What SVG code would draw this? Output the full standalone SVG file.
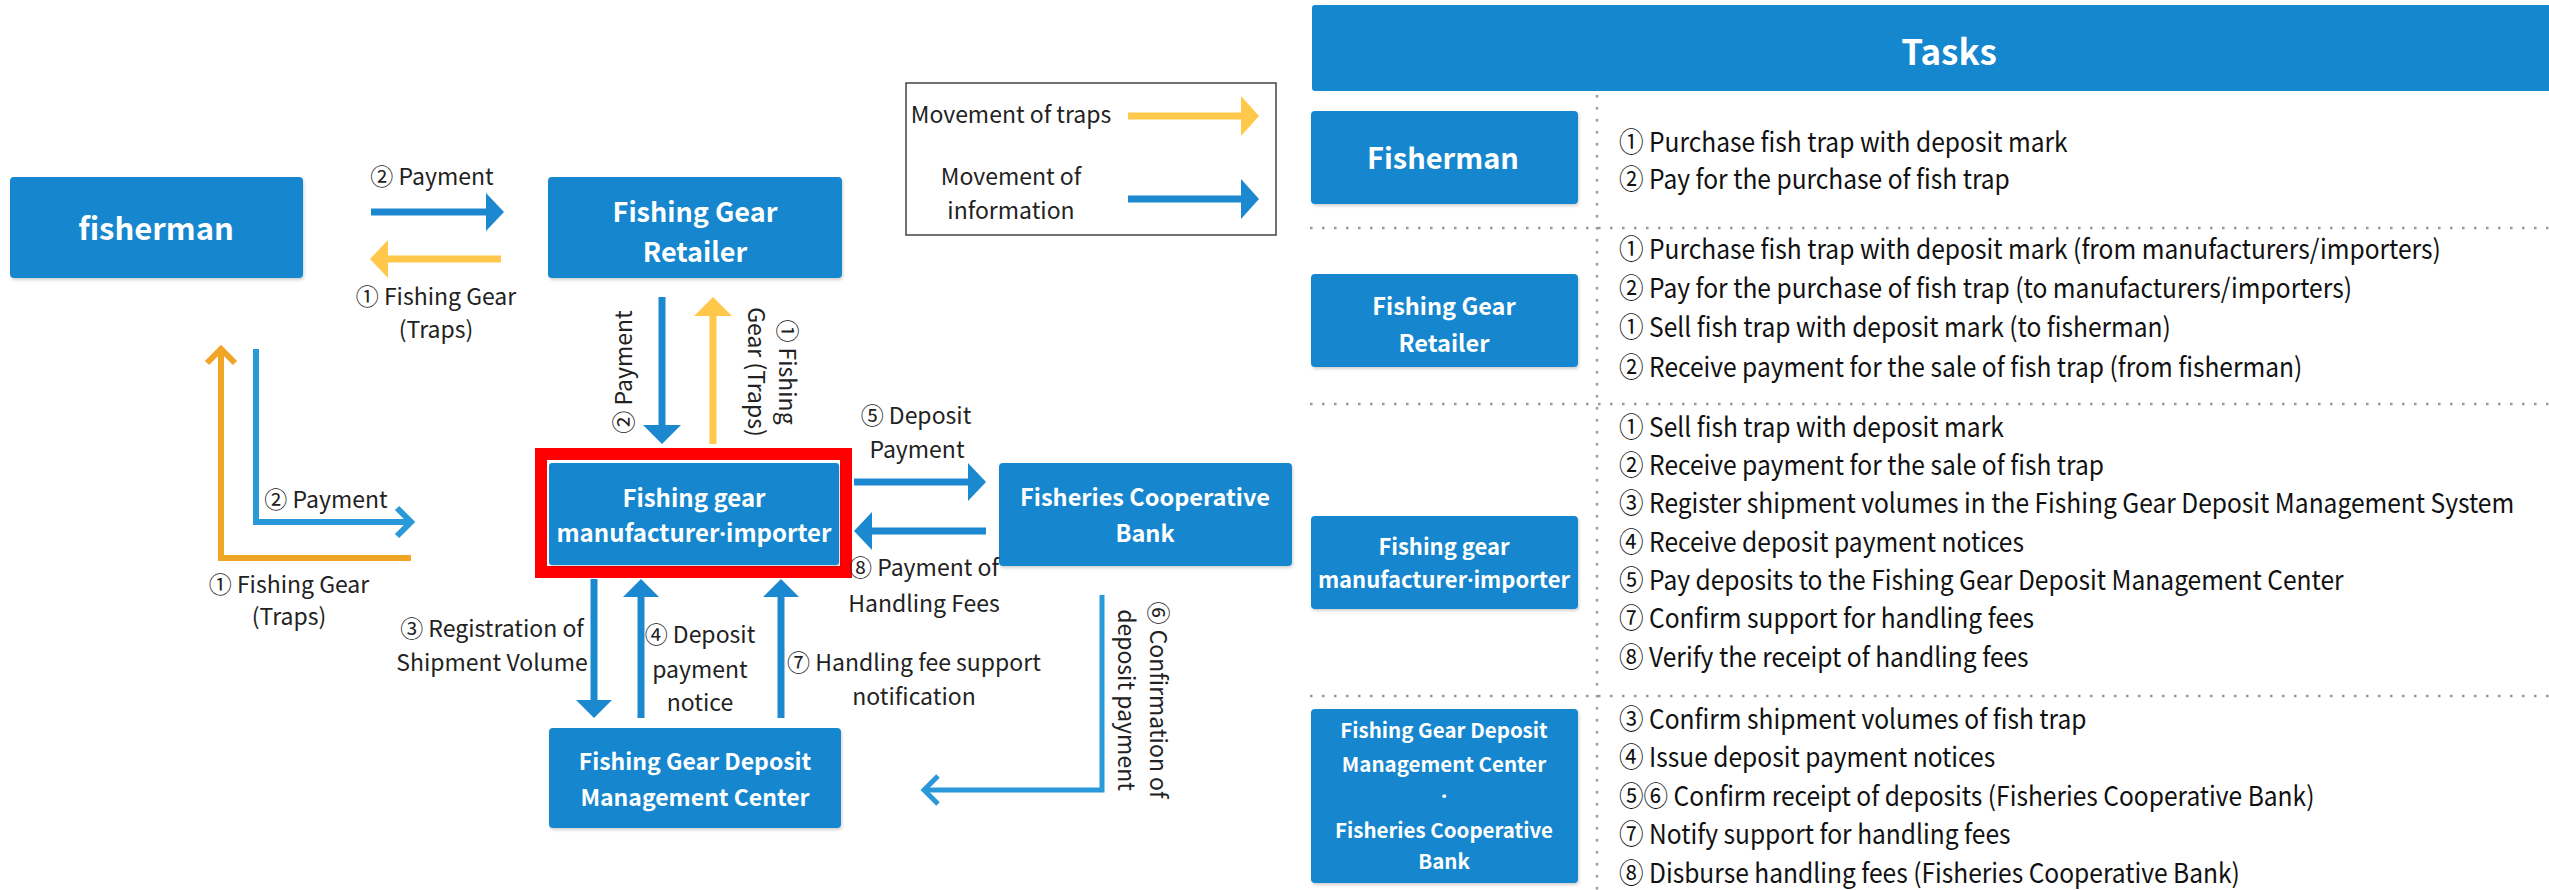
<svg xmlns="http://www.w3.org/2000/svg" width="2549" height="890" viewBox="0 0 2549 890">
<defs>
<style>
text{font-family:"Noto Sans CJK KR","Noto Sans",sans-serif;}
.box{fill:#1487CE;}
.bt{fill:#fff;font-weight:bold;text-anchor:middle;}
.lb{fill:#222;font-size:23px;text-anchor:middle;}
.tk{fill:#111;font-size:27px;}
.dt{font-family:"Noto Sans",sans-serif;}
.bl{stroke:#1B88D0;stroke-width:7;fill:none;}
.ye{stroke:#FFC84A;stroke-width:7;fill:none;}
.bh{fill:#1B88D0;}
.yh{fill:#FFC84A;}
.dot{stroke:#9a9a9a;stroke-width:2.5;stroke-dasharray:2.5 9.5;fill:none;}
</style>
<filter id="sh" x="-5%" y="-5%" width="110%" height="115%">
<feDropShadow dx="1" dy="2" stdDeviation="1.5" flood-color="#000" flood-opacity="0.18"/>
</filter>
</defs>
<rect width="2549" height="890" fill="#fff"/>

<!-- left diagram nodes -->
<g id="fisherman">
<rect class="box" x="10" y="177" width="293" height="101" rx="4" filter="url(#sh)"/>
<text class="bt" x="156" y="240" font-size="31">fisherman</text>
</g>
<g id="retailer">
<rect class="box" x="548" y="177" width="294" height="101" rx="4" filter="url(#sh)"/>
<text class="bt" x="695" y="222" font-size="27">Fishing Gear</text>
<text class="bt" x="695" y="262" font-size="27">Retailer</text>
</g>
<g id="manufacturer">
<rect x="541" y="454" width="305" height="118" fill="none" stroke="#FF0000" stroke-width="12"/>
<rect class="box" x="549" y="463" width="290" height="102" rx="3" filter="url(#sh)"/>
<text class="bt" x="694" y="507" font-size="24">Fishing gear</text>
<text class="bt" x="694" y="542" font-size="24">manufacturer<tspan class="dt">·</tspan>importer</text>
</g>
<g id="bank">
<rect class="box" x="999" y="463" width="293" height="103" rx="4" filter="url(#sh)"/>
<text class="bt" x="1145" y="506" font-size="23.5">Fisheries Cooperative</text>
<text class="bt" x="1145" y="542" font-size="23.5">Bank</text>
</g>
<g id="center">
<rect class="box" x="549" y="728" width="292" height="100" rx="4" filter="url(#sh)"/>
<text class="bt" x="695" y="770" font-size="23">Fishing Gear Deposit</text>
<text class="bt" x="695" y="806" font-size="23">Management Center</text>
</g>

<!-- legend -->
<g id="legend">
<rect x="906" y="83" width="370" height="152" fill="#fff" stroke="#444" stroke-width="1.5"/>
<text class="lb" x="1011" y="123" font-size="22">Movement of traps</text>
<text class="lb" x="1011" y="185" font-size="22">Movement of</text>
<text class="lb" x="1011" y="219" font-size="22">information</text>
<line class="ye" x1="1128" y1="116" x2="1243" y2="116"/>
<polygon class="yh" points="1241,96 1259,116 1241,136"/>
<line class="bl" x1="1128" y1="199" x2="1243" y2="199"/>
<polygon class="bh" points="1241,179 1259,199 1241,219"/>
</g>

<!-- connectors -->
<g id="connectors">
<line class="bl" x1="371" y1="212" x2="488" y2="212"/>
<polygon class="bh" points="486,193 504,212 486,231"/>
<line class="ye" x1="501" y1="259" x2="386" y2="259"/>
<polygon class="yh" points="388,240 370,259 388,278"/>
<line class="bl" x1="662" y1="297" x2="662" y2="428"/>
<polygon class="bh" points="643,425 662,444 681,425"/>
<line class="ye" x1="713" y1="444" x2="713" y2="313"/>
<polygon class="yh" points="694,316 713,297 732,316"/>
<line class="bl" x1="854" y1="482" x2="970" y2="482"/>
<polygon class="bh" points="968,463 986,482 968,501"/>
<line class="bl" x1="986" y1="531" x2="870" y2="531"/>
<polygon class="bh" points="872,512 854,531 872,550"/>
<line class="bl" x1="594" y1="579" x2="594" y2="703"/>
<polygon class="bh" points="576,700 594,718 612,700"/>
<line class="bl" x1="641" y1="718" x2="641" y2="594"/>
<polygon class="bh" points="623,597 641,579 659,597"/>
<line class="bl" x1="781" y1="718" x2="781" y2="594"/>
<polygon class="bh" points="763,597 781,579 799,597"/>
<path d="M1102,595 V790 H925" fill="none" stroke="#2A99DA" stroke-width="5"/>
<polyline points="938,776 924,790 938,804" fill="none" stroke="#2A99DA" stroke-width="5"/>
<path d="M256,349 V522 H409" fill="none" stroke="#2A99DA" stroke-width="6"/>
<polyline points="397,508 411,522 397,536" fill="none" stroke="#2A99DA" stroke-width="6"/>
<path d="M411,558 H221 V352" fill="none" stroke="#F0A526" stroke-width="6"/>
<polyline points="207,363 221,349 235,363" fill="none" stroke="#F0A526" stroke-width="6"/>
</g>

<!-- connector labels -->
<g id="labels">
<text class="lb" x="432" y="185">② Payment</text>
<text class="lb" x="436" y="305">① Fishing Gear</text>
<text class="lb" x="436" y="338">(Traps)</text>
<text class="lb" transform="translate(632,372) rotate(-90)">② Payment</text>
<text class="lb" transform="translate(779,372) rotate(90)">① Fishing</text>
<text class="lb" transform="translate(748,372) rotate(90)">Gear (Traps)</text>
<text class="lb" x="916" y="424">⑤ Deposit</text>
<text class="lb" x="917" y="458">Payment</text>
<text class="lb" x="924" y="576">⑧ Payment of</text>
<text class="lb" x="924" y="612">Handling Fees</text>
<text class="lb" x="492" y="637">③ Registration of</text>
<text class="lb" x="492" y="671">Shipment Volume</text>
<text class="lb" x="700" y="643">④ Deposit</text>
<text class="lb" x="700" y="678">payment</text>
<text class="lb" x="700" y="711">notice</text>
<text class="lb" x="914" y="671">⑦ Handling fee support</text>
<text class="lb" x="914" y="705">notification</text>
<text class="lb" transform="translate(1150,700) rotate(90)">⑥ Confirmation of</text>
<text class="lb" transform="translate(1118,700) rotate(90)">deposit payment</text>
<text class="lb" x="326" y="508">② Payment</text>
<text class="lb" x="289" y="593">① Fishing Gear</text>
<text class="lb" x="289" y="625">(Traps)</text>
</g>

<!-- tasks panel -->
<g id="tasks-header">
<rect class="box" x="1312" y="5" width="1245" height="86" rx="3"/>
<text class="bt" x="1949" y="65" font-size="35">Tasks</text>
</g>
<g id="grid">
<line class="dot" x1="1597" y1="95" x2="1597" y2="890"/>
<line class="dot" x1="1310" y1="228" x2="2549" y2="228"/>
<line class="dot" x1="1310" y1="404" x2="2549" y2="404"/>
<line class="dot" x1="1310" y1="696" x2="2549" y2="696"/>
</g>
<g id="task-fisherman">
<rect class="box" x="1311" y="111" width="267" height="93" rx="4" filter="url(#sh)"/>
<text class="bt" x="1443" y="169" font-size="29">Fisherman</text>
<g transform="translate(1619 0) scale(0.91 1)">
<text class="tk" x="0" y="152">① Purchase fish trap with deposit mark</text>
<text class="tk" x="0" y="189">② Pay for the purchase of fish trap</text>
</g>
</g>
<g id="task-retailer">
<rect class="box" x="1311" y="274" width="267" height="93" rx="4" filter="url(#sh)"/>
<text class="bt" x="1444" y="315" font-size="23.5">Fishing Gear</text>
<text class="bt" x="1444" y="352" font-size="23.5">Retailer</text>
<g transform="translate(1619 0) scale(0.91 1)">
<text class="tk" x="0" y="259">① Purchase fish trap with deposit mark (from manufacturers/importers)</text>
<text class="tk" x="0" y="298">② Pay for the purchase of fish trap (to manufacturers/importers)</text>
<text class="tk" x="0" y="337">① Sell fish trap with deposit mark (to fisherman)</text>
<text class="tk" x="0" y="377">② Receive payment for the sale of fish trap (from fisherman)</text>
</g>
</g>
<g id="task-manufacturer">
<rect class="box" x="1311" y="516" width="267" height="93" rx="4" filter="url(#sh)"/>
<text class="bt" x="1444" y="555" font-size="22">Fishing gear</text>
<text class="bt" x="1444" y="588" font-size="22">manufacturer<tspan class="dt">·</tspan>importer</text>
<g transform="translate(1619 0) scale(0.91 1)">
<text class="tk" x="0" y="437">① Sell fish trap with deposit mark</text>
<text class="tk" x="0" y="475">② Receive payment for the sale of fish trap</text>
<text class="tk" x="0" y="513">③ Register shipment volumes in the Fishing Gear Deposit Management System</text>
<text class="tk" x="0" y="552">④ Receive deposit payment notices</text>
<text class="tk" x="0" y="590">⑤ Pay deposits to the Fishing Gear Deposit Management Center</text>
<text class="tk" x="0" y="628">⑦ Confirm support for handling fees</text>
<text class="tk" x="0" y="667">⑧ Verify the receipt of handling fees</text>
</g>
</g>
<g id="task-center-bank">
<rect class="box" x="1311" y="709" width="267" height="174" rx="4" filter="url(#sh)"/>
<text class="bt" x="1444" y="738" font-size="20.5">Fishing Gear Deposit</text>
<text class="bt" x="1444" y="772" font-size="20.5">Management Center</text>
<text class="bt dt" x="1444" y="804" font-size="22">·</text>
<text class="bt" x="1444" y="838" font-size="20.5">Fisheries Cooperative</text>
<text class="bt" x="1444" y="869" font-size="20.5">Bank</text>
<g transform="translate(1619 0) scale(0.91 1)">
<text class="tk" x="0" y="729">③ Confirm shipment volumes of fish trap</text>
<text class="tk" x="0" y="767">④ Issue deposit payment notices</text>
<text class="tk" x="0" y="806">⑤⑥ Confirm receipt of deposits (Fisheries Cooperative Bank)</text>
<text class="tk" x="0" y="844">⑦ Notify support for handling fees</text>
<text class="tk" x="0" y="883">⑧ Disburse handling fees (Fisheries Cooperative Bank)</text>
</g>
</g>
</svg>
